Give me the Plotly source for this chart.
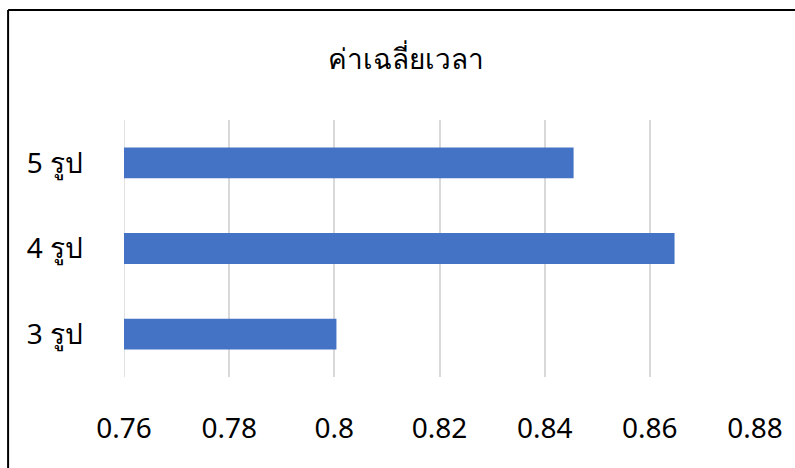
import plotly.graph_objects as go

# Average time per number of shapes
categories = ["3 รูป", "4 รูป", "5 รูป"]
avg_time = [0.8004, 0.8647, 0.8455]
x_ticks = [0.76, 0.78, 0.80, 0.82, 0.84, 0.86, 0.88]
x_tick_text = ["0.76", "0.78", "0.8", "0.82", "0.84", "0.86", "0.88"]
title_text = "ค่าเฉลี่ยเวลา"

W, H = 795, 468
L, R, T, B = 123.5, 40, 120, 91
pw, ph = W - L - R, H - T - B

font_family = "Noto Sans, DejaVu Sans Condensed, sans-serif"
grid_color = "#D9D9D9"

fig = go.Figure(
    go.Bar(
        x=avg_time,
        y=categories,
        orientation="h",
        width=0.36,
        marker=dict(color="#4472C4", line=dict(width=0)),
    )
)

fig.update_layout(
    width=W,
    height=H,
    margin=dict(l=L, r=R, t=T, b=B),
    paper_bgcolor="white",
    plot_bgcolor="white",
    showlegend=False,
    title=dict(
        text=title_text,
        x=406 / W,
        xanchor="center",
        y=1 - 59 / H,
        yanchor="middle",
        font=dict(family=font_family, size=28, color="#000000"),
    ),
    xaxis=dict(
        range=[x_ticks[0], x_ticks[-1]],
        tickvals=x_ticks,
        ticktext=x_tick_text,
        showgrid=True,
        gridcolor=grid_color,
        gridwidth=1.5,
        zeroline=False,
        showline=False,
        ticks="",
        ticklabelstandoff=32,
        tickfont=dict(family=font_family, size=28, color="#000000"),
        fixedrange=True,
    ),
    yaxis=dict(
        categoryorder="array",
        categoryarray=categories,
        range=[-0.5, 2.5],
        showgrid=False,
        zeroline=False,
        showline=False,
        ticks="",
        ticklabelstandoff=40,
        tickfont=dict(family=font_family, size=28, color="#000000"),
        fixedrange=True,
    ),
)

# gridline at the axis minimum (plotly skips grid at the range edge)
fig.add_shape(type="line", xref="x", yref="paper", x0=x_ticks[0], x1=x_ticks[0], y0=0, y1=1,
              layer="below", line=dict(color=grid_color, width=1.5))

# chart frame (top and left edges visible within the canvas)
fx0 = (7.5 - L) / pw
fy1 = (H - B - 10) / ph
fig.add_shape(type="line", xref="paper", yref="paper", x0=fx0, x1=1.5, y0=fy1, y1=fy1,
              line=dict(color="#000000", width=2))
fig.add_shape(type="line", xref="paper", yref="paper", x0=fx0, x1=fx0, y0=-1.0, y1=fy1,
              line=dict(color="#000000", width=2))

fig.write_html("out.html")
